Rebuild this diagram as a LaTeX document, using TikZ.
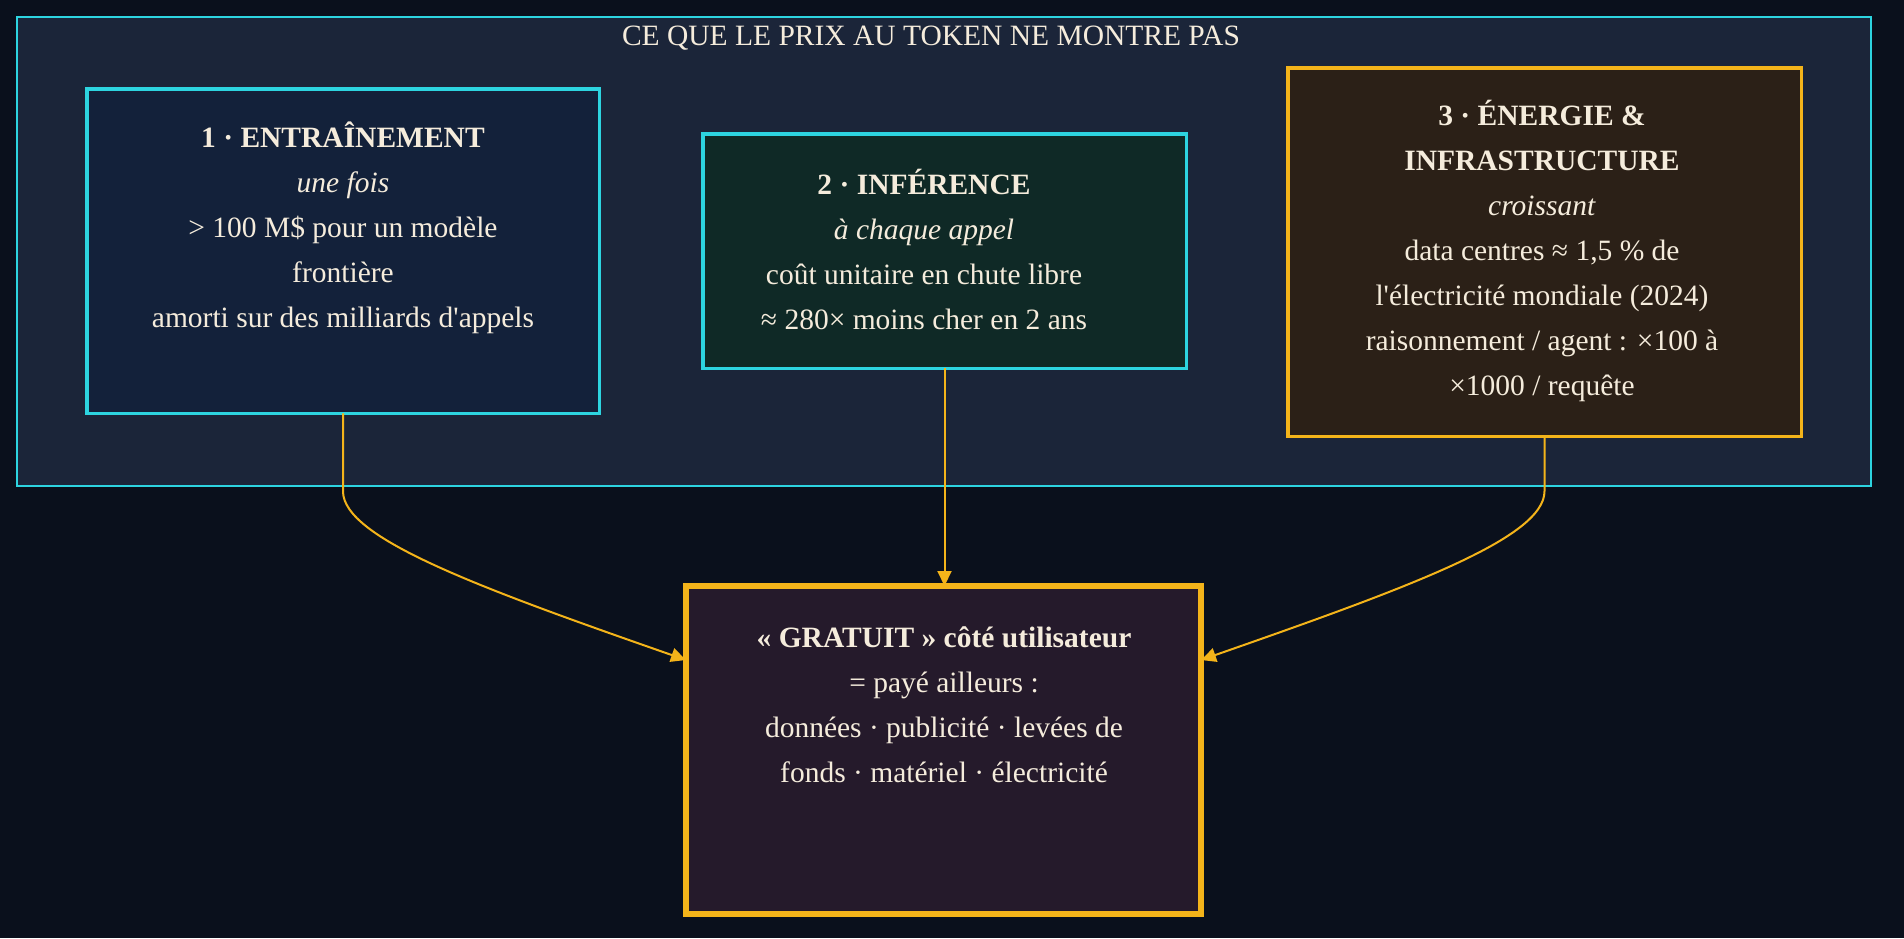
\documentclass[tikz,border=0pt]{standalone}
\usepackage{fontspec}
\setmainfont{Liberation Serif}[Ligatures=TeXOff]
\usetikzlibrary{arrows.meta}
\definecolor{bg}{HTML}{0A101C}
\definecolor{framefill}{HTML}{1B2539}
\definecolor{cyanb}{HTML}{2DD4E0}
\definecolor{amber}{HTML}{F4B41A}
\definecolor{fillA}{HTML}{13213A}
\definecolor{fillB}{HTML}{0F2926}
\definecolor{fillC}{HTML}{2B2017}
\definecolor{fillD}{HTML}{251A2B}
\definecolor{cream}{HTML}{F5ECDC}
\begin{document}
\begin{tikzpicture}[x=1pt,y=-1pt,
  box/.style={rectangle, inner sep=0pt, outer sep=0pt},
  cyanbox/.style={box, draw=cyanb, line width=3.5pt},
  amberbox/.style={box, draw=amber, line width=3.5pt},
  txt/.style={text=cream, align=center, font=\fontsize{29.5}{45}\selectfont, inner sep=0pt},
  link/.style={draw=amber, line width=2pt, -{Triangle[length=15pt,width=14pt]}}
]
\fill[bg] (0,0) rectangle (1904,938);
\useasboundingbox (0,0) rectangle (1904,938);

\node[box, draw=cyanb, line width=2pt, fill=framefill, minimum width=1854pt, minimum height=469pt] (frame) at (944,251.5) {};
\node[txt] (title) at (931,38.5) {CE QUE LE PRIX AU TOKEN NE MONTRE PAS};

\node[cyanbox, fill=fillA, minimum width=512.5pt, minimum height=324.5pt] (b1) at (343,251) {};
\node[txt] (t1) at (343,228) {\textbf{1 · ENTRAÎNEMENT}\\\textit{une fois}\\> 100 M\$ pour un modèle\\frontière\\amorti sur des milliards d'appels};

\node[cyanbox, fill=fillB, minimum width=483.5pt, minimum height=234.5pt] (b2) at (944.5,251) {};
\node[txt] (t2) at (924,249) {\textbf{2 · INFÉRENCE}\\\textit{à chaque appel}\\coût unitaire en chute libre\\≈ 280× moins cher en 2 ans};

\node[amberbox, fill=fillC, minimum width=513.5pt, minimum height=368.5pt] (b3) at (1544.5,252) {};
\node[txt] (t3) at (1542,251) {\textbf{3 · ÉNERGIE \&}\\\textbf{INFRASTRUCTURE}\\\textit{croissant}\\data centres ≈ 1,5 \% de\\l'électricité mondiale (2024)\\raisonnement / agent : ×100 à\\×1000 / requête};

\node[box, draw=amber, line width=6pt, fill=fillD, minimum width=515pt, minimum height=328pt] (bot) at (943.5,750) {};
\node[txt] (t4) at (944,704.5) {\textbf{« GRATUIT » côté utilisateur}\\= payé ailleurs :\\données · publicité · levées de\\fonds · matériel · électricité};

\coordinate (inL) at ([yshift=-74pt]bot.north west);
\coordinate (inR) at ([yshift=-74pt]bot.north east);

\draw[link] (b1.south) -- ++(0,78) .. controls ++(0,47) and (480,588) .. (inL);
\draw[link] (b2.south) -- (b2.south |- bot.north);
\draw[link] (b3.south) -- ++(0,55) .. controls ++(0,47) and (1407,588) .. (inR);
\end{tikzpicture}
\end{document}
